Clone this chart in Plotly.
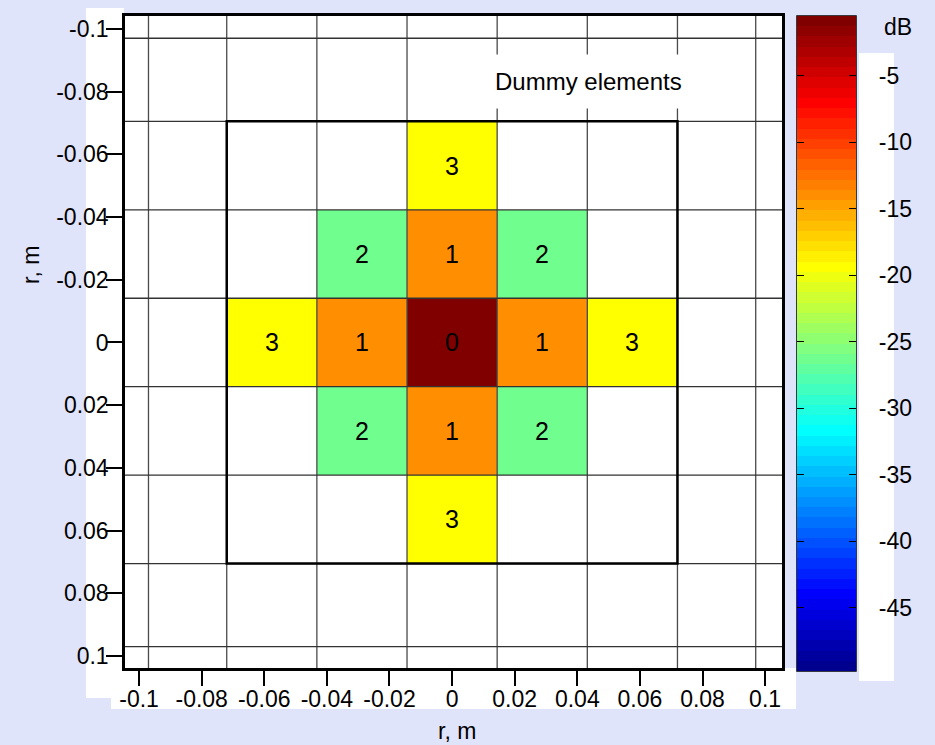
import numpy as np
import plotly.graph_objects as go

# ---- data -------------------------------------------------------------
# element index offsets from the centre element (both directions)
element_index = [-2, -1, 0, 1, 2]
spacing_x = 0.0288      # element pitch along x, m
spacing_y = 0.0282      # element pitch along y, m
dummy_edge = 0.097      # outer edge of the dummy-element ring, m

# coupling level in dB, rows listed from top (negative r) to bottom
coupling_db = [
    [None,  None,  -19.3, None,  None],
    [None,  -26.5, -14.3, -26.5, None],
    [-19.3, -14.3,   0.0, -14.3, -19.3],
    [None,  -26.5, -14.3, -26.5, None],
    [None,  None,  -19.3, None,  None],
]
# neighbour ring number written in each cell
ring_labels = [
    ["",  "",  "3", "",  ""],
    ["",  "2", "1", "2", ""],
    ["3", "1", "0", "1", "3"],
    ["",  "2", "1", "2", ""],
    ["",  "",  "3", "",  ""],
]

axis_tickvals = [-0.1, -0.08, -0.06, -0.04, -0.02, 0, 0.02, 0.04, 0.06, 0.08, 0.1]
axis_ticktext = ["-0.1", "-0.08", "-0.06", "-0.04", "-0.02", "0",
                 "0.02", "0.04", "0.06", "0.08", "0.1"]
cbar_tickvals = [-45, -40, -35, -30, -25, -20, -15, -10, -5]
cbar_ticktext = ["-45", "-40", "-35", "-30", "-25", "-20", "-15", "-10", "-5"]
db_min, db_max = -49.75, -0.5


# ---- 64-level jet colour map -----------------------------------------
def jet(n=64):
    m = n // 4
    u = np.concatenate([np.arange(1, m + 1) / m, np.ones(m - 1), np.arange(m, 0, -1) / m])
    g = m // 2 + np.arange(1, len(u) + 1)
    r = g + m
    b = g - m
    out = np.zeros((n, 3))
    for rows, ch in ((r, 0), (g, 1), (b, 2)):
        ok = (rows >= 1) & (rows <= n)
        out[rows[ok] - 1, ch] = u[ok]
    return out


levels = jet(64)
colorscale = []
for k, (rr, gg, bb) in enumerate(levels):
    c = f"rgb({round(rr * 255)},{round(gg * 255)},{round(bb * 255)})"
    colorscale.append([k / 64, c])
    colorscale.append([(k + 1) / 64, c])

FONT = "Liberation Sans, Arial, sans-serif"
BG = "#e0e4fa"

# plot-area geometry in pixels
PL, PT, PW, PH = 125, 16, 657, 652
CB_LEFT, CB_W, CB_LEN = 797, 59, 655


def paper_x(px):
    return (px - PL) / PW


def paper_y(py):
    return 1 - (py - PT) / PH


xc = [spacing_x * i for i in element_index]
yc = [spacing_y * i for i in element_index]

cbar_base = dict(
    xanchor="left", xpad=0, y=1, yanchor="top", ypad=0,
    thicknessmode="pixels", len=CB_LEN, lenmode="pixels",
    tickvals=cbar_tickvals, ticktext=cbar_ticktext,
)

fig = go.Figure()
fig.add_trace(go.Heatmap(
    x=xc, y=yc, z=coupling_db,
    text=ring_labels, texttemplate="%{text}",
    textfont=dict(family=FONT, size=25, color="black"),
    colorscale=colorscale, zmin=db_min, zmax=db_max, zauto=False,
    hoverongaps=False,
    colorbar=dict(
        x=paper_x(CB_LEFT), thickness=CB_W,
        outlinecolor="black", outlinewidth=1.5,
        ticks="outside", ticklen=18, tickcolor="rgba(0,0,0,0)",
        tickfont=dict(family=FONT, size=23, color="black"),
        **cbar_base,
    ),
))

# short inner tick marks on both edges of the colour bar
for cb_x, cb_w in ((CB_LEFT, CB_W), (CB_LEFT, 7)):
    fig.add_trace(go.Scatter(
        x=[None, None], y=[None, None], mode="markers", hoverinfo="skip",
        showlegend=False,
        marker=dict(color=[db_min, db_max], colorscale=colorscale,
                    cmin=db_min, cmax=db_max, showscale=True,
                    colorbar=dict(
                        x=paper_x(cb_x), thickness=cb_w,
                        outlinewidth=0, ticks="inside", ticklen=7,
                        tickcolor="black", tickwidth=1.3, showticklabels=False,
                        **cbar_base,
                    )),
    ))

# ---- cell boundaries --------------------------------------------------
edges_x = [-dummy_edge] + [spacing_x * (k + 0.5) for k in range(-3, 3)] + [dummy_edge]
edges_y = [-dummy_edge] + [spacing_y * (k + 0.5) for k in range(-3, 3)] + [dummy_edge]
shapes = []
for ex in edges_x:
    shapes.append(dict(type="line", xref="x", yref="y domain", x0=ex, x1=ex, y0=0, y1=1,
                       line=dict(color="#4a4a4a", width=1.3)))
for ey in edges_y:
    shapes.append(dict(type="line", xref="x domain", yref="y", x0=0, x1=1, y0=ey, y1=ey,
                       line=dict(color="#333333", width=1.3)))
# outline of the active 5x5 array
shapes.append(dict(type="rect", xref="x", yref="y",
                   x0=edges_x[1], x1=edges_x[-2], y0=edges_y[1], y1=edges_y[-2],
                   line=dict(color="black", width=2.5)))


# white panels behind the tick labels
def px_rect(x0, x1, y0, y1):
    return dict(type="rect", xref="paper", yref="paper", layer="below",
                x0=paper_x(x0), x1=paper_x(x1), y0=paper_y(y0), y1=paper_y(y1),
                fillcolor="white", line=dict(width=0))


shapes += [px_rect(86, 124, 8, 698), px_rect(111, 796, 668, 709), px_rect(859, 894, 53, 681)]

axis_common = dict(
    tickvals=axis_tickvals, ticktext=axis_ticktext,
    ticks="outside", tickcolor="black", tickwidth=1.5,
    showline=True, linecolor="black", linewidth=2.5, mirror=True,
    showgrid=False, zeroline=False,
    tickfont=dict(family=FONT, size=23, color="black"),
)

label_font = dict(family=FONT, size=23, color="black")

fig.update_layout(
    width=935, height=745,
    margin=dict(l=PL, r=935 - PL - PW, t=PT, b=745 - PT - PH),
    paper_bgcolor=BG, plot_bgcolor="white",
    font=dict(family=FONT, color="black"),
    showlegend=False,
    xaxis=dict(range=[-0.1045, 0.1054], ticklen=15, ticklabelstandoff=-6, **axis_common),
    yaxis=dict(range=[0.1038, -0.1041], ticklen=16, ticklabelstandoff=-7, **axis_common),
    shapes=shapes,
    annotations=[
        dict(text="Dummy elements", x=0.0435, y=-0.0831, xref="x", yref="y",
             xanchor="center", yanchor="middle",
             showarrow=False, bgcolor="white", borderpad=13,
             font=dict(family=FONT, size=24, color="black")),
        dict(text="r, m", x=paper_x(457), y=paper_y(731),
             xref="paper", yref="paper", xanchor="center", yanchor="middle",
             showarrow=False, font=label_font),
        dict(text="r, m", x=paper_x(31), y=paper_y(265),
             xref="paper", yref="paper", xanchor="center", yanchor="middle",
             showarrow=False, textangle=-90, font=label_font),
        dict(text="dB", x=paper_x(898), y=paper_y(27),
             xref="paper", yref="paper", xanchor="center", yanchor="middle",
             showarrow=False, font=label_font),
    ],
)

fig.write_html("out.html")
